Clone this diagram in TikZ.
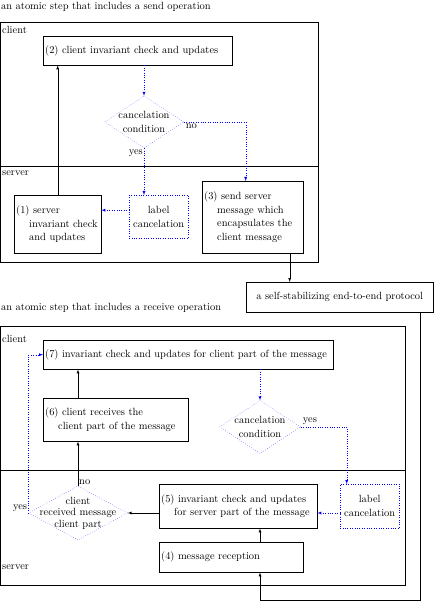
\documentclass[tikz,border=0pt]{standalone}
\usepackage{amsmath}
\usetikzlibrary{shapes.geometric, arrows.meta, positioning, calc}

\newcommand{\ind}{\hspace*{13pt}}

\begin{document}
\begin{tikzpicture}[x=1pt, y=-1pt, >=latex, font=\fontsize{10.45}{13.8}\selectfont,
  box/.style={draw, inner sep=2pt, align=left, anchor=north west},
  cbox/.style={draw=blue, dotted, inner sep=2pt, align=center, anchor=north west},
  cond/.style={diamond, draw=blue, dotted, inner sep=0pt},
  lbl/.style={anchor=north west, inner sep=1pt},
  flow/.style={->},
  cflow/.style={->, draw=blue, dotted}]
\useasboundingbox (0,0) rectangle (434,601);

% send operation
\node[lbl] (sendtitle) at (0,1) {an atomic step that includes a send operation};
\draw (0,22) rectangle (318,262);
\draw (0,166) -- (318,166);
\node[lbl] at (1,25) {client};
\node[lbl] at (1,170) {server};

\node[box, text width=185pt, minimum height=29pt] (chk2) at (43,36) {(2) client invariant check and updates};
\node[cond, minimum width=79pt, minimum height=52pt,
  label={[align=center]center:cancelation\\condition}] (cond1) at (144,122) {};
\node[box, text width=83pt, minimum height=58pt] (chk1) at (14,195) {(1) server\\\ind invariant check\\\ind and updates};
\node[cbox, text width=55pt, minimum height=43pt] (cancel1) at (129,195) {label\\cancelation};
\node[box, text width=97pt, minimum height=72pt] (send3) at (202,181) {(3) send server\\\ind message which\\\ind encapsulates the\\\ind client message};

\draw[cflow] (chk2.south -| cond1.north) -- (cond1.north);
\draw[cflow] (cond1.east) -| node[pos=0, below right, inner sep=2pt] {no} ([xshift=-7pt]send3.north);
\draw[cflow] (cond1.south) -- node[pos=0, below left, inner sep=1pt] {yes} (cond1.south |- cancel1.north);
\draw[cflow] ([yshift=6.5pt]cancel1.west) -- ([yshift=6.5pt]cancel1.west -| chk1.east);
\draw[flow] (chk1.north) -- (chk1.north |- chk2.south);

% end-to-end protocol
\node[draw, minimum width=187pt, minimum height=30pt, anchor=north west] (proto) at (246,282) {a self-stabilizing end-to-end protocol};
\draw[flow] ([xshift=37pt]send3.south) -- ([xshift=37pt]send3.south |- proto.north);

% receive operation
\node[lbl] (recvtitle) at (0,302) {an atomic step that includes a receive operation};
\draw (0,326) rectangle (405,585);
\draw (0,470) -- (405,470);
\node[lbl] at (1,334) {client};
\node[lbl] at (1,564) {server};

\node[box, text width=286pt, minimum height=29pt] (ans7) at (43,340) {(7) invariant check and updates for client part of the message};
\node[box, text width=141pt, minimum height=43pt] (get6) at (43,398) {(6) client receives the\\\ind client part of the message};
\node[cond, minimum width=81pt, minimum height=53pt,
  label={[align=center]center:cancelation\\condition}] (cond2) at (260,427) {};
\node[cbox, text width=55pt, minimum height=44pt] (cancel2) at (340,484) {label\\cancelation};
\node[box, text width=154pt, minimum height=44pt] (chk5) at (159,484) {(5) invariant check and updates\\\ind for server part of the message};
\node[cond, minimum width=99pt, minimum height=54pt,
  label={[align=center, font=\fontsize{10.45}{11.5}\selectfont]center:client\\received message\\client part}] (cond3) at (78,513) {};
\node[box, text width=140pt, minimum height=30pt] (recv4) at (159,542) {(4) message reception};

\draw[cflow] (ans7.south -| cond2.north) -- (cond2.north);
\draw[cflow] (cond2.east) -| node[pos=0, above right, inner sep=2pt] {yes} ([xshift=-23pt]cancel2.north);
\draw[cflow] (cancel2.west |- cond3.east) -- (chk5.east |- cond3.east);
\draw[flow] (chk5.west |- cond3.east) -- (cond3.east);
\draw[flow] (cond3.north) -- node[pos=0, above right, inner sep=1pt] {no} (get6.south -| cond3.north);
\draw[flow] (get6.north -| cond3.north) -- (ans7.south -| cond3.north);
\draw[cflow] (cond3.west) -- node[pos=0, above left, inner sep=1pt] {yes} ++(0,0) |- (ans7.west);
\draw[flow] (recv4.north -| cond2.north) -- (chk5.south -| cond2.north);

\coordinate (turn) at (420,600);
\draw[flow] (proto.south -| turn) -- (turn) -| (recv4.south -| cond2.north);
\end{tikzpicture}
\end{document}
